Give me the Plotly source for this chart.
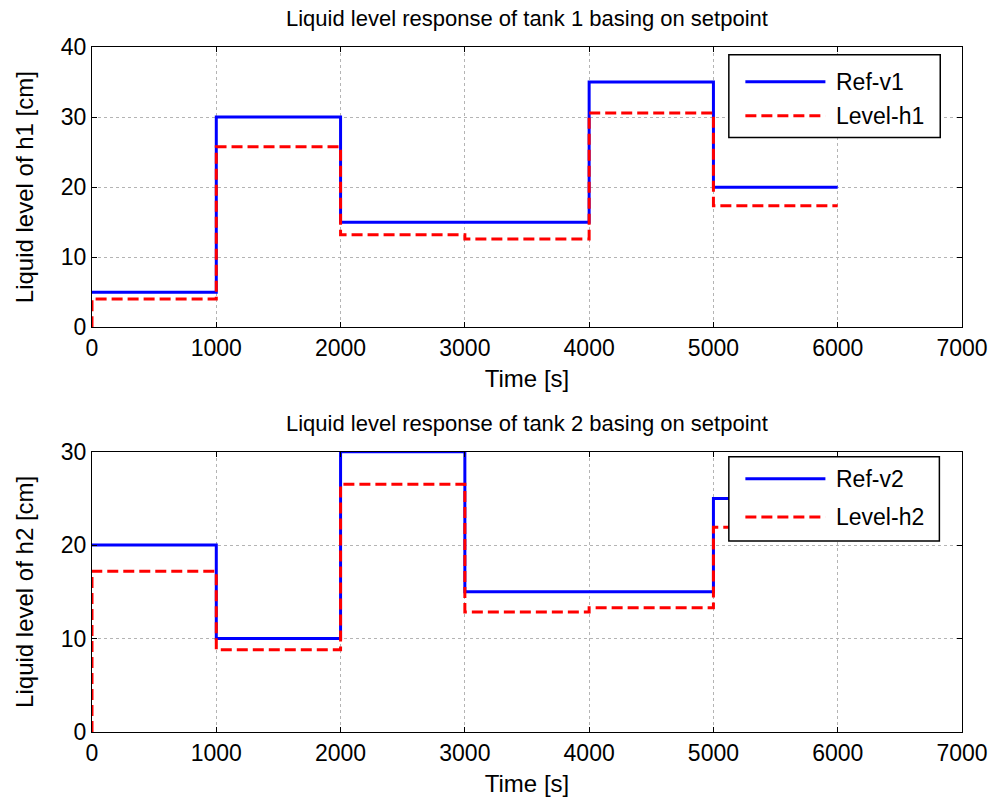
import plotly.graph_objects as go
from plotly.subplots import make_subplots

# ---- data ----
time_steps = [0, 1000, 2000, 3000, 4000, 5000, 6000]
ref_v1 = [5, 30, 15, 15, 35, 20, 20]
level_h1_t = [0, 0, 1000, 2000, 3000, 4000, 5000, 6000]
level_h1 = [0, 4.05, 25.75, 13.2, 12.6, 30.6, 17.35, 17.35]

ref_v2 = [20, 10, 30, 15, 15, 25, 25]
level_h2_t = [0, 0, 1000, 2000, 3000, 4000, 5000, 6000]
level_h2 = [0, 17.2, 8.8, 26.5, 12.85, 13.3, 21.9, 21.9]

x_ticks = [0, 1000, 2000, 3000, 4000, 5000, 6000, 7000]
y1_ticks = [0, 10, 20, 30, 40]
y2_ticks = [0, 10, 20, 30]

titles = ["Liquid level response of tank 1 basing on setpoint",
          "Liquid level response of tank 2 basing on setpoint"]
y_titles = ["Liquid level of h1 [cm]", "Liquid level of h2 [cm]"]
legend_names = [["Ref-v1", "Level-h1"], ["Ref-v2", "Level-h2"]]

FONT = "Liberation Sans, Arial, sans-serif"
BLUE = "#0000ff"
RED = "#ff0000"
DASH = "11px,5px"

fig = make_subplots(rows=2, cols=1, vertical_spacing=0.1815)

fig.add_trace(go.Scatter(x=time_steps, y=ref_v1, mode="lines", line_shape="hv",
                         line=dict(color=BLUE, width=3), name=legend_names[0][0],
                         showlegend=False), row=1, col=1)
fig.add_trace(go.Scatter(x=level_h1_t, y=level_h1, mode="lines", line_shape="hv",
                         line=dict(color=RED, width=3, dash=DASH), name=legend_names[0][1],
                         showlegend=False), row=1, col=1)
fig.add_trace(go.Scatter(x=time_steps, y=ref_v2, mode="lines", line_shape="hv",
                         line=dict(color=BLUE, width=3), name=legend_names[1][0],
                         showlegend=False), row=2, col=1)
fig.add_trace(go.Scatter(x=level_h2_t, y=level_h2, mode="lines", line_shape="hv",
                         line=dict(color=RED, width=3, dash=DASH), name=legend_names[1][1],
                         showlegend=False), row=2, col=1)

axis_common = dict(showline=True, linecolor="black", linewidth=1, mirror="ticks",
                   ticks="inside", ticklen=5, tickcolor="black", automargin=False,
                   showgrid=True, gridcolor="#b4b4b4", griddash="dot", gridwidth=1,
                   zeroline=False, tickfont=dict(family=FONT, size=23, color="black"))

for r in (1, 2):
    fig.update_xaxes(range=[0, 7000], tickvals=x_ticks, **axis_common,
                     title=dict(text="Time [s]", font=dict(family=FONT, size=24, color="black"),
                                standoff=10),
                     row=r, col=1)
fig.update_yaxes(range=[0, 40], tickvals=y1_ticks, **axis_common,
                 title=dict(text=y_titles[0], font=dict(family=FONT, size=24, color="black"),
                            standoff=20), row=1, col=1)
fig.update_yaxes(range=[0, 30], tickvals=y2_ticks, **axis_common,
                 title=dict(text=y_titles[1], font=dict(family=FONT, size=24, color="black"),
                            standoff=20), row=2, col=1)

# subplot titles
for i, t in enumerate(titles):
    fig.add_annotation(text=t, xref="x domain" if i == 0 else "x2 domain",
                       yref="y domain" if i == 0 else "y2 domain",
                       x=0.5, y=1, yanchor="bottom", yshift=14, showarrow=False,
                       font=dict(family=FONT, size=22, color="black"))

# manual legends (MATLAB style boxes)
legend_geo = [
    dict(xr="x domain", yr="y domain", x0=0.732, x1=0.975, y0=0.677, y1=0.972,
         yb=0.876, yr_=0.755),
    dict(xr="x2 domain", yr="y2 domain", x0=0.732, x1=0.974, y0=0.681, y1=0.982,
         yb=0.903, yr_=0.767),
]
for i, g in enumerate(legend_geo):
    fig.add_shape(type="rect", xref=g["xr"], yref=g["yr"], x0=g["x0"], x1=g["x1"],
                  y0=g["y0"], y1=g["y1"], line=dict(color="black", width=1.5),
                  fillcolor="white", layer="above")
    fig.add_shape(type="line", xref=g["xr"], yref=g["yr"], x0=0.751, x1=0.843,
                  y0=g["yb"], y1=g["yb"], line=dict(color=BLUE, width=3), layer="above")
    fig.add_shape(type="line", xref=g["xr"], yref=g["yr"], x0=0.751, x1=0.843,
                  y0=g["yr_"], y1=g["yr_"], line=dict(color=RED, width=3, dash=DASH),
                  layer="above")
    for name, yy in zip(legend_names[i], (g["yb"], g["yr_"])):
        fig.add_annotation(text=name, xref=g["xr"], yref=g["yr"], x=0.853, y=yy,
                           xanchor="left", yanchor="middle", showarrow=False,
                           font=dict(family=FONT, size=23, color="black"))

fig.update_layout(width=993, height=807, margin=dict(l=92, r=31, t=47, b=75),
                  paper_bgcolor="white", plot_bgcolor="white", showlegend=False,
                  font=dict(family=FONT, color="black"))

fig.write_html("out.html", config={"displayModeBar": False},
               post_script="document.body.style.margin='0';document.body.style.overflow='hidden';")
